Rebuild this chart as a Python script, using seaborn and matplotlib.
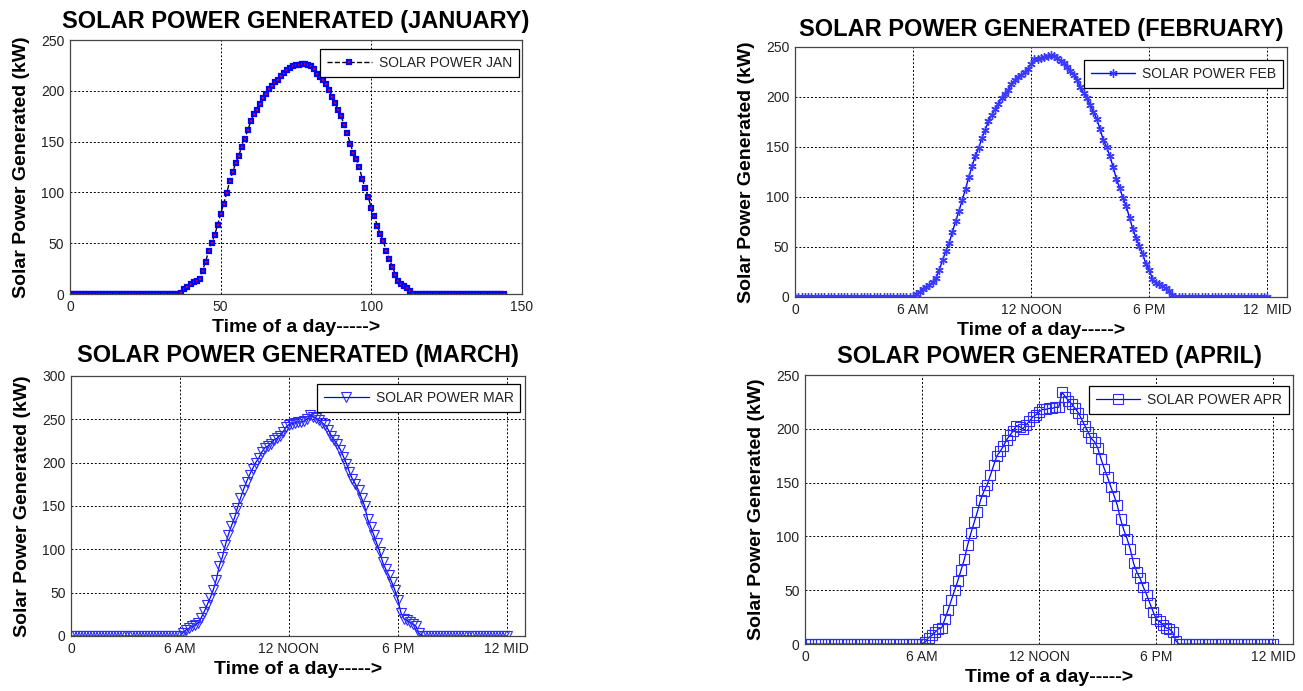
import matplotlib
matplotlib.use("Agg")
import matplotlib.pyplot as plt
import seaborn as sns

# 10 minute slots over one day (0 .. 144)
slots = list(range(145))

jan_kw = [0, 0, 0, 0, 0, 0, 0, 0, 0, 0, 0, 0,
          0, 0, 0, 0, 0, 0, 0, 0, 0, 0, 0, 0,
          0, 0, 0, 0, 0, 0, 0, 0, 0, 0, 0, 0,
          0, 1, 5, 7, 10, 12, 13, 15, 23, 32, 42, 50,
          58, 68, 79, 89, 99, 111, 120, 129, 136, 145, 153, 161,
          170, 177, 181, 187, 193, 197, 202, 205, 209, 211, 215, 218,
          220, 222, 224, 225, 225, 226, 226, 225, 224, 221, 217, 214,
          211, 207, 201, 194, 188, 181, 175, 166, 158, 148, 139, 133,
          125, 113, 104, 95, 85, 77, 67, 59, 52, 42, 34, 27,
          19, 13, 10, 8, 6, 3, 0, 0, 0, 0, 0, 0,
          0, 0, 0, 0, 0, 0, 0, 0, 0, 0, 0, 0,
          0, 0, 0, 0, 0, 0, 0, 0, 0, 0, 0, 0,
          0]

feb_kw = [0, 0, 0, 0, 0, 0, 0, 0, 0, 0, 0, 0,
          0, 0, 0, 0, 0, 0, 0, 0, 0, 0, 0, 0,
          0, 0, 0, 0, 0, 0, 0, 0, 0, 0, 0, 0,
          0, 3, 5, 8, 10, 12, 15, 19, 27, 37, 46, 54,
          65, 76, 86, 97, 108, 120, 131, 141, 149, 159, 167, 176,
          182, 188, 193, 199, 203, 207, 213, 217, 220, 222, 225, 228,
          233, 238, 238, 239, 240, 241, 242, 241, 239, 236, 234, 230,
          226, 222, 217, 210, 204, 199, 192, 185, 178, 168, 157, 150,
          141, 130, 118, 109, 99, 91, 79, 68, 59, 51, 43, 33,
          27, 18, 14, 13, 11, 9, 6, 2, 0, 0, 0, 0,
          0, 0, 0, 0, 0, 0, 0, 0, 0, 0, 0, 0,
          0, 0, 0, 0, 0, 0, 0, 0, 0, 0, 0, 0,
          0]

mar_kw = [0, 0, 0, 0, 0, 0, 0, 0, 0, 0, 0, 0,
          0, 0, 0, 0, 0, 0, 0, 0, 0, 0, 0, 0,
          0, 0, 0, 0, 0, 0, 0, 0, 0, 0, 0, 0,
          0, 4, 7, 9, 11, 13, 15, 21, 28, 36, 44, 53,
          65, 81, 91, 105, 117, 127, 136, 148, 159, 169, 178, 186,
          193, 200, 205, 212, 217, 219, 222, 226, 228, 231, 235, 241,
          244, 245, 246, 247, 247, 248, 250, 255, 253, 251, 249, 246,
          243, 238, 231, 226, 221, 215, 207, 199, 189, 181, 175, 168,
          159, 150, 135, 126, 117, 107, 97, 85, 77, 70, 62, 53,
          42, 27, 20, 18, 16, 14, 11, 3, 0, 0, 0, 0,
          0, 0, 0, 0, 0, 0, 0, 0, 0, 0, 0, 0,
          0, 0, 0, 0, 0, 0, 0, 0, 0, 0, 0, 0,
          0]

apr_kw = [0, 0, 0, 0, 0, 0, 0, 0, 0, 0, 0, 0,
          0, 0, 0, 0, 0, 0, 0, 0, 0, 0, 0, 0,
          0, 0, 0, 0, 0, 0, 0, 0, 0, 0, 0, 0,
          0, 2, 6, 8, 11, 14, 15, 23, 32, 41, 50, 59,
          69, 79, 92, 103, 113, 123, 134, 142, 148, 157, 166, 175,
          179, 184, 190, 194, 198, 203, 202, 200, 204, 207, 211, 213,
          216, 218, 218, 219, 219, 220, 220, 234, 230, 226, 223, 219,
          215, 209, 203, 197, 191, 188, 182, 172, 163, 155, 146, 138,
          129, 116, 106, 98, 88, 75, 67, 61, 53, 46, 38, 30,
          23, 21, 18, 15, 14, 11, 3, 0, 0, 0, 0, 0,
          0, 0, 0, 0, 0, 0, 0, 0, 0, 0, 0, 0,
          0, 0, 0, 0, 0, 0, 0, 0, 0, 0, 0, 0,
          0]

jan_ticks = [0, 50, 100, 150]
jan_tick_labels = ["0", "50", "100", "150"]
hour_ticks = [0, 36, 72, 108, 144]
feb_tick_labels = ["0", "6 AM", "12 NOON", "6 PM", "12  MID"]
hour_tick_labels = ["0", "6 AM", "12 NOON", "6 PM", "12 MID"]

sns.set_style("white")
plt.rcParams["font.family"] = ["Liberation Sans", "DejaVu Sans"]
plt.rcParams["text.color"] = "black"
plt.rcParams["axes.labelcolor"] = "black"

fig = plt.figure(figsize=(13.03, 6.91), dpi=100)


def PANEL(rect, values, title, label, style, ymax, xticks, xlabels, title_pad, anchor):
    ax = fig.add_axes(rect)
    sns.lineplot(x=slots, y=values, ax=ax, label=label, estimator=None,
                 sort=False, errorbar=None, **style)
    ax.set_xlim(0, 150)
    ax.set_ylim(0, ymax)
    ax.set_xticks(xticks)
    ax.set_xticklabels(xlabels)
    ax.set_yticks(list(range(0, ymax + 1, 50)))
    ax.tick_params(direction="in", length=3, width=0.6, color="#444444",
                   labelsize=10, labelcolor="#222222", pad=4)
    ax.grid(True, color="black", linestyle=(0, (2, 2)), linewidth=0.7)
    ax.set_axisbelow(True)
    for sp in ax.spines.values():
        sp.set_color("#444444")
        sp.set_linewidth(0.9)
    ax.set_title(title, fontsize=17, fontweight="bold", pad=title_pad, color="black")
    ax.set_xlabel("Time of a day----->", fontsize=14, fontweight="bold", labelpad=4)
    ax.set_ylabel("Solar Power Generated (kW)", fontsize=14, fontweight="bold", labelpad=8)
    leg = ax.legend(loc="upper right", bbox_to_anchor=anchor, borderaxespad=0,
                    fancybox=False, framealpha=1, edgecolor="black", fontsize=10,
                    handlelength=3.2, handletextpad=0.5, borderpad=0.5)
    leg.get_frame().set_linewidth(0.9)
    for t in leg.get_texts():
        t.set_color("#222222")
    return ax


PANEL([0.0537, 0.5745, 0.3469, 0.3676], jan_kw, "SOLAR POWER GENERATED (JANUARY)",
      "SOLAR POWER JAN",
      dict(color="black", linestyle="--", linewidth=1, marker="s", markersize=3.3,
           markerfacecolor="red", markeredgecolor="blue", markeredgewidth=1.6),
      250, jan_ticks, jan_tick_labels, 9, (0.993, 0.965))

PANEL([0.6101, 0.5702, 0.3776, 0.3618], feb_kw, "SOLAR POWER GENERATED (FEBRUARY)",
      "SOLAR POWER FEB",
      dict(color="blue", linewidth=1, marker=(6, 2, 0), markersize=6,
           markerfacecolor="#3a3aff", markeredgecolor="#3a3aff", markeredgewidth=1),
      250, hour_ticks, feb_tick_labels, 8, (0.992, 0.948))

PANEL([0.0545, 0.0796, 0.3484, 0.3763], mar_kw, "SOLAR POWER GENERATED (MARCH)",
      "SOLAR POWER MAR",
      dict(color="blue", linewidth=0.9, marker="v", markersize=6.5,
           markerfacecolor="none", markeredgecolor="#2b2bff", markeredgewidth=0.8),
      300, hour_ticks, hour_tick_labels, 10, (0.99, 0.969))

PANEL([0.6178, 0.0680, 0.3745, 0.3893], apr_kw, "SOLAR POWER GENERATED (APRIL)",
      "SOLAR POWER APR",
      dict(color="blue", linewidth=0.9, marker="s", markersize=7,
           markerfacecolor="none", markeredgecolor="#2b2bff", markeredgewidth=0.8),
      250, hour_ticks, hour_tick_labels, 9, (0.992, 0.959))

fig.savefig("out.png", dpi=100)
